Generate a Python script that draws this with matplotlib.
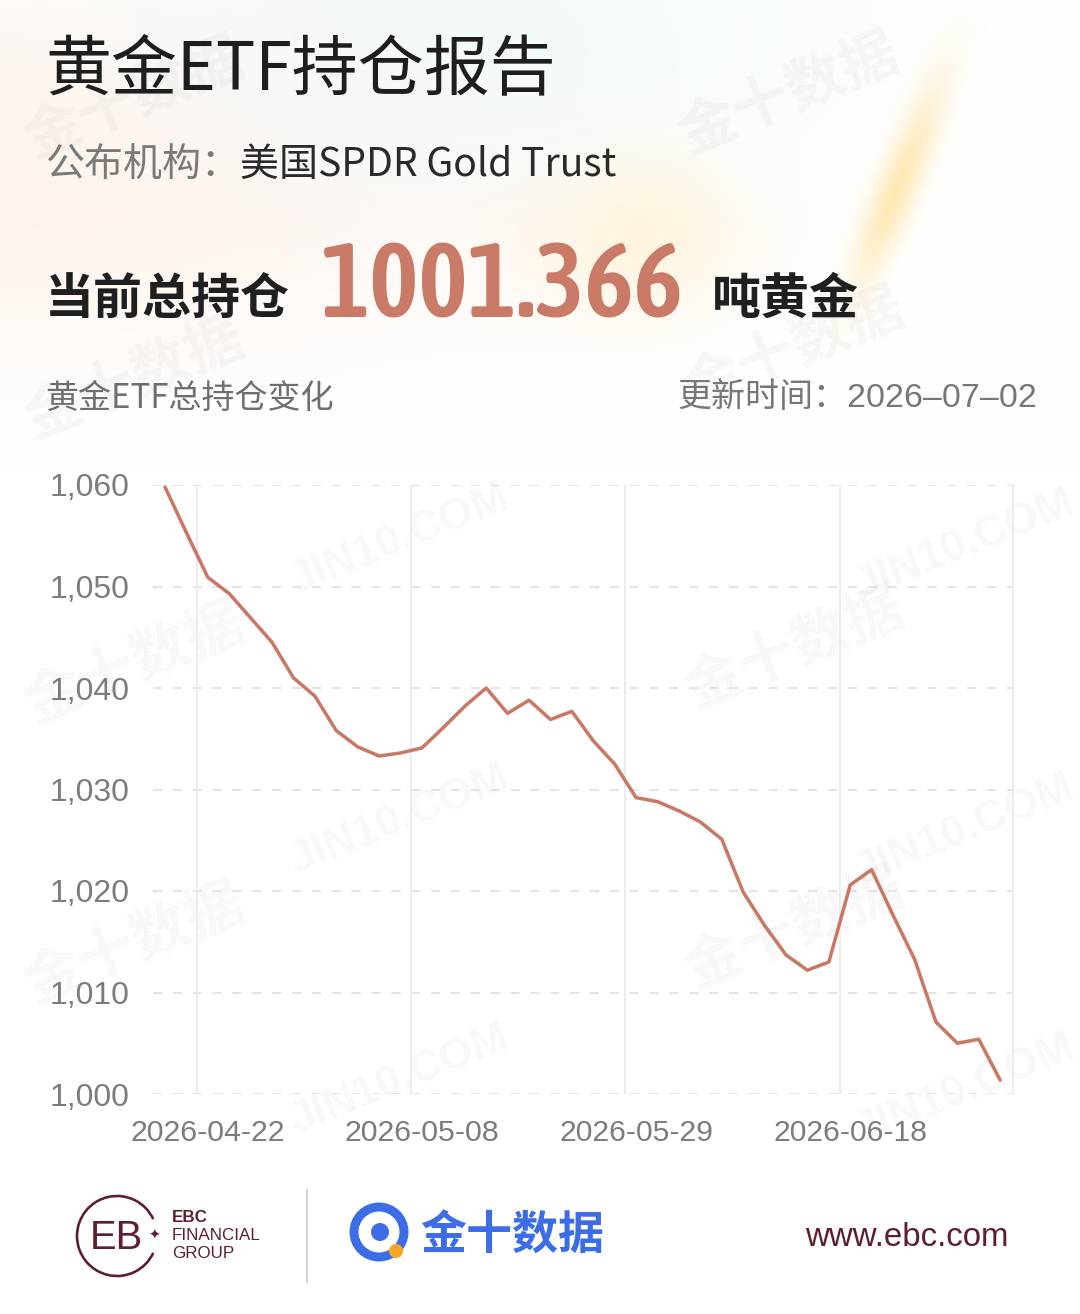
import os
import numpy as np
import matplotlib
matplotlib.use('Agg')
import matplotlib.pyplot as plt
from matplotlib import font_manager as fm
from matplotlib.patches import Circle, Arc
from matplotlib.lines import Line2D

# ---------------- data ----------------
holdings = [1059.8, 1055.3, 1050.9, 1049.3, 1046.9, 1044.5, 1041.0, 1039.2, 1035.8, 1034.2,
            1033.3, 1033.6, 1034.1, 1036.1, 1038.2, 1040.0, 1037.5, 1038.8, 1036.9, 1037.7,
            1034.8, 1032.5, 1029.2, 1028.8, 1027.9, 1026.8, 1025.1, 1019.9, 1016.6, 1013.7,
            1012.2, 1013.0, 1020.6, 1022.1, 1017.6, 1013.3, 1007.1, 1005.0, 1005.4, 1001.366]
date_tick_index = [2, 12, 22, 32]
date_tick_labels = ['2026-04-22', '2026-05-08', '2026-05-29', '2026-06-18']
y_ticks = [1000, 1010, 1020, 1030, 1040, 1050, 1060]
current_total = '1001.366'
update_date = '2026–07–02'

# ---------------- setup ----------------
W, H = 1080, 1314
fig = plt.figure(figsize=(W / 100, H / 100), dpi=100)
fig.patch.set_facecolor('white')
renderer = fig.canvas.get_renderer()

CJK = 'Noto Sans CJK SC'
by_file = {os.path.basename(f.fname): f.fname for f in fm.fontManager.ttflist}


def px(p):
    return p * 0.72


def fit(txt, target_w, max_px):
    txt.set_fontsize(px(max_px))
    w = txt.get_window_extent(renderer).width
    if w > target_w:
        txt.set_fontsize(px(max_px) * target_w / w)


# ---------------- background ----------------
bg = fig.add_axes([0, 0, 1, 1], zorder=-10)
bg.set_xlim(0, W)
bg.set_ylim(H, 0)
bg.axis('off')

yy, xx = np.mgrid[0:H:2, 0:W:2].astype(float)
img = np.ones(yy.shape + (3,))


def blend(color, weight):
    global img
    c = np.array(color)[None, None, :]
    w = np.clip(weight, 0, 1)[..., None]
    img = img * (1 - w) + c * w


fade = np.clip((470 - yy) / 250, 0, 1)
blend((1.0, 0.91, 0.85), 0.5 * np.exp(-((xx - 0) ** 2 / 500 ** 2 + (yy - 220) ** 2 / 260 ** 2)) * fade)
blend((0.93, 0.97, 0.98), 0.6 * np.exp(-((xx - 480) ** 2 / 350 ** 2 + (yy - 30) ** 2 / 160 ** 2)) * fade)
blend((1.0, 0.93, 0.82), 0.45 * np.exp(-((xx - 620) ** 2 / 130 ** 2 + (yy - 260) ** 2 / 80 ** 2)) * fade)
u = (xx - 895) * 0.37 - (yy - 190) * 0.93
v = (xx - 895) * 0.93 + (yy - 190) * 0.37
blend((1.0, 0.86, 0.52), 0.6 * np.exp(-(u ** 2 / 115 ** 2 + v ** 2 / 20 ** 2)) * fade)
blend((1.0, 0.95, 0.80), 0.45 * np.exp(-((xx - 650) ** 2 / 70 ** 2 + (yy - 230) ** 2 / 75 ** 2)) * fade)
bg.imshow(img, extent=(0, W, H, 0), aspect='auto', interpolation='bilinear', zorder=0)

# watermarks
wm_kw = dict(color='#000000', alpha=0.03, rotation=22, ha='center', va='center', zorder=1)
for (x, y) in [(135, 100), (790, 95), (135, 380), (795, 350), (135, 665), (795, 650), (135, 945), (795, 930)]:
    bg.text(x, y, '金十数据', fontsize=px(58), family=[CJK], fontweight='bold', **wm_kw)
for (x, y) in [(400, 540), (400, 820), (400, 1080), (965, 545), (965, 830), (965, 1090)]:
    bg.text(x, y, 'JIN10.COM', fontsize=px(44), family=['Liberation Sans'], fontweight='bold', **wm_kw)

# ---------------- header texts ----------------
bg.text(45, 70, '黄金ETF持仓报告', fontsize=px(66), family=[CJK], color='#1e1e1e', va='center', zorder=5)
bg.text(45, 165, '公布机构：', fontsize=px(39), family=[CJK], color='#7a7a7a', va='center', zorder=5)
bg.text(240, 165, '美国SPDR Gold Trust', fontsize=px(39), family=[CJK], color='#2a2a2a', va='center', zorder=5)

bg.text(45, 299, '当前总持仓', fontsize=px(49), family=[CJK], fontweight='bold', color='#1f1f1f',
        va='center', zorder=5)

# big number: choose the condensed face whose natural width is closest to the reference
big = bg.text(321, 317, current_total, color='#C97B68', va='baseline', zorder=5)
cands = [fn for fn in ['BarlowSemiCondensed-SemiBold.ttf', 'BarlowSemiCondensed-Medium.ttf',
                       'BarlowCondensed-SemiBold.ttf', 'AsapCondensed-SemiBold.ttf'] if fn in by_file]
best, best_d = None, None
for fn in cands:
    big.set_fontproperties(fm.FontProperties(fname=by_file[fn]))
    big.set_fontsize(px(106))
    d = abs(big.get_window_extent(renderer).width - 363)
    if best_d is None or d < best_d:
        best, best_d = fn, d
if best:
    big.set_fontproperties(fm.FontProperties(fname=by_file[best]))
else:
    big.set_fontproperties(fm.FontProperties(family='Liberation Sans', weight='bold'))
fit(big, 363, 106)

bg.text(712, 299, '吨黄金', fontsize=px(49), family=[CJK], fontweight='bold', color='#1f1f1f',
        va='center', zorder=5)

bg.text(45, 398, '黄金ETF总持仓变化', fontsize=px(33), family=[CJK], color='#6e6e6e', va='center', zorder=5)
bg.text(1037, 398, '更新时间：' + update_date, fontsize=px(34), family=['Liberation Sans', CJK],
        color='#777777', ha='right', va='center', zorder=5)

# ---------------- chart ----------------
left, right, top, bottom = 153, 1013, 485, 1094
ax = fig.add_axes([left / W, (H - bottom) / H, (right - left) / W, (bottom - top) / H], zorder=2)
ax.patch.set_alpha(0)
x = np.arange(len(holdings))
ax.set_xlim(-0.56, 39.6)
ax.set_ylim(y_ticks[0], y_ticks[-1])

for yv in y_ticks:
    ax.axhline(yv, color='#E0E0E0', lw=1.3, dashes=(5, 6), zorder=1)
for t in date_tick_index:
    ax.axvline(t - 0.5, color='#EBEBEB', lw=1.3, zorder=1)

ax.plot(x, holdings, color='#C87864', lw=px(3.5), solid_joinstyle='round', solid_capstyle='round',
        clip_on=False, zorder=3)

for s in ['left', 'top', 'bottom']:
    ax.spines[s].set_visible(False)
ax.spines['right'].set_color('#EBEBEB')
ax.spines['right'].set_linewidth(1.3)

FP_TICK = fm.FontProperties(family='Liberation Sans')
ax.set_yticks(y_ticks)
ax.set_yticklabels([f'{v:,}' for v in y_ticks])
ax.set_xticks(date_tick_index)
ax.set_xticklabels(date_tick_labels)
ax.tick_params(axis='y', length=0, pad=px(23), labelcolor='#7c7c7c')
ax.tick_params(axis='x', length=0, pad=px(25), labelcolor='#7c7c7c')
for lab in ax.get_xticklabels() + ax.get_yticklabels():
    lab.set_fontproperties(FP_TICK)
for lab in ax.get_xticklabels():
    fit(lab, 154, 33)
for lab in ax.get_yticklabels():
    fit(lab, 80, 32)

# ---------------- footer ----------------
maroon = '#5C1F2C'
bg.add_patch(Arc((117, 1236), 80, 80, theta1=25, theta2=335, color=maroon, lw=px(2.6), zorder=5))
bg.text(116, 1238, 'EB', fontsize=px(40), family=['Liberation Sans'], color=maroon,
        ha='center', va='center', zorder=5)
bg.text(154, 1236, '✦', fontsize=px(14), family=['DejaVu Sans'], color=maroon, ha='center', va='center', zorder=5)
bg.text(172, 1218, 'EBC', fontsize=px(17), family=['Liberation Sans'], fontweight='bold', color=maroon,
        va='center', zorder=5)
bg.text(172, 1236, 'FINANCIAL', fontsize=px(17), family=['Liberation Sans'], color=maroon, va='center', zorder=5)
bg.text(172, 1254, 'GROUP', fontsize=px(17), family=['Liberation Sans'], color=maroon, va='center', zorder=5)
bg.add_line(Line2D([307, 307], [1190, 1282], color='#cfcfcf', lw=1.3, zorder=5))

blue = '#3C6DE6'
bg.add_patch(Circle((379, 1232), 25, fill=False, ec=blue, lw=px(9), zorder=5))
bg.add_patch(Circle((380, 1232), 9, fc=blue, ec='none', zorder=5))
bg.add_patch(Circle((396, 1251), 7, fc='#F5A623', ec='none', zorder=6))
bg.text(420, 1236, '金十数据', fontsize=px(46), family=[CJK], fontweight='bold', color=blue,
        va='center', zorder=5)
bg.text(805, 1238, 'www.ebc.com', fontsize=px(33), family=['Liberation Sans'], color=maroon,
        va='center', zorder=5)

fig.savefig('out.png', dpi=100, facecolor='white')
